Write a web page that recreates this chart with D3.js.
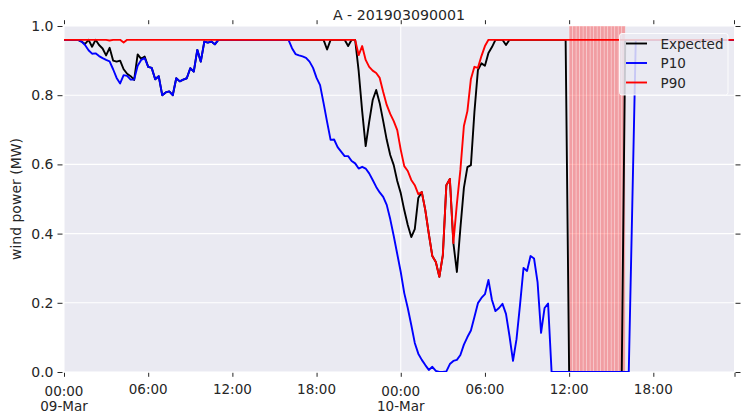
<!DOCTYPE html>
<html>
<head>
<meta charset="utf-8">
<script src="https://cdn.jsdelivr.net/npm/d3@7"></script>
<style>
  body { margin: 0; background: #ffffff; }
  svg { display: block; }
  text { font-family: "DejaVu Sans", sans-serif; fill: #262626; }
</style>
</head>
<body>
<svg id="chart" width="744" height="414"></svg>
<script>
// Forecast for site A, 15-minute steps starting 09-Mar-2019 00:00
const startTime = new Date(2019, 2, 9, 0, 0);
const stepMinutes = 15;

const expected = [
  0.96, 0.96, 0.96, 0.96, 0.96, 0.955, 0.948, 0.96, 0.94, 0.96,
  0.945, 0.935, 0.915, 0.937, 0.90, 0.897, 0.90, 0.875, 0.862, 0.855,
  0.844, 0.918, 0.905, 0.912, 0.882, 0.879, 0.846, 0.855, 0.800, 0.808,
  0.811, 0.800, 0.849, 0.840, 0.845, 0.849, 0.878, 0.868, 0.931, 0.897,
  0.955, 0.952, 0.955, 0.947, 0.96, 0.96, 0.96, 0.96, 0.96, 0.96,
  0.96, 0.96, 0.96, 0.96, 0.96, 0.96, 0.96, 0.96, 0.96, 0.96,
  0.96, 0.96, 0.96, 0.96, 0.96, 0.96, 0.96, 0.96, 0.96, 0.96,
  0.96, 0.96, 0.96, 0.96, 0.96, 0.932, 0.96, 0.96, 0.96, 0.96,
  0.96, 0.942, 0.96, 0.96, 0.870, 0.754, 0.653, 0.723, 0.786, 0.815,
  0.777, 0.725, 0.671, 0.627, 0.598, 0.552, 0.517, 0.468, 0.425, 0.390,
  0.413, 0.503, 0.520, 0.468, 0.399, 0.335, 0.318, 0.275, 0.338, 0.540,
  0.558, 0.373, 0.289, 0.416, 0.532, 0.592, 0.598, 0.751, 0.873, 0.892,
  0.885, 0.922, 0.939, 0.96, 0.96, 0.96, 0.945, 0.96, 0.96, 0.96,
  0.96, 0.96, 0.96, 0.96, 0.96, 0.96, 0.96, 0.96, 0.96, 0.96,
  0.96, 0.96, 0.96, 0.96, 0, 0, 0, 0, 0, 0,
  0, 0, 0, 0, 0, 0, 0, 0, 0, 0,
  0.96, 0.96, 0.96, 0.96, 0.96, 0.96, 0.96, 0.96, 0.96, 0.96,
  0.96, 0.96, 0.96, 0.96, 0.96, 0.96, 0.96, 0.96, 0.96, 0.96,
  0.96, 0.96, 0.96, 0.96, 0.96, 0.96, 0.96, 0.96, 0.96, 0.96,
  0.96, 0.96
];

const p10 = [
  0.96, 0.96, 0.96, 0.96, 0.96, 0.955, 0.945, 0.93, 0.92, 0.921,
  0.913, 0.907, 0.902, 0.898, 0.875, 0.85, 0.834, 0.858, 0.856, 0.845,
  0.845, 0.885, 0.902, 0.907, 0.882, 0.879, 0.846, 0.855, 0.800, 0.808,
  0.811, 0.800, 0.849, 0.840, 0.845, 0.849, 0.878, 0.868, 0.931, 0.897,
  0.955, 0.952, 0.955, 0.947, 0.96, 0.96, 0.96, 0.96, 0.96, 0.96,
  0.96, 0.96, 0.96, 0.96, 0.96, 0.96, 0.96, 0.96, 0.96, 0.96,
  0.96, 0.96, 0.96, 0.96, 0.96, 0.936, 0.919, 0.915, 0.912, 0.908,
  0.897, 0.879, 0.850, 0.829, 0.777, 0.723, 0.671, 0.672, 0.650, 0.637,
  0.624, 0.624, 0.610, 0.603, 0.588, 0.593, 0.588, 0.574, 0.555, 0.535,
  0.519, 0.506, 0.483, 0.442, 0.393, 0.341, 0.289, 0.228, 0.185, 0.136,
  0.084, 0.053, 0.035, 0.020, 0.006, 0.015, 0.003, 0.0, 0.0, 0.002,
  0.023, 0.032, 0.035, 0.049, 0.079, 0.101, 0.120, 0.159, 0.199, 0.214,
  0.225, 0.266, 0.208, 0.176, 0.185, 0.197, 0.168, 0.104, 0.032, 0.095,
  0.194, 0.301, 0.292, 0.335, 0.328, 0.260, 0.113, 0.185, 0.198, 0,
  0, 0, 0, 0, 0, 0, 0, 0, 0, 0,
  0, 0, 0, 0, 0, 0, 0, 0, 0, 0,
  0, 0, 0.48, 0.96, 0.96, 0.96, 0.96, 0.96, 0.96, 0.96,
  0.96, 0.96, 0.96, 0.96, 0.96, 0.96, 0.96, 0.96, 0.96, 0.96,
  0.96, 0.96, 0.96, 0.96, 0.96, 0.96, 0.96, 0.96, 0.96, 0.96,
  0.96, 0.96
];

const p90 = [
  0.96, 0.96, 0.96, 0.96, 0.96, 0.96, 0.96, 0.96, 0.96, 0.96,
  0.96, 0.96, 0.96, 0.958, 0.96, 0.96, 0.96, 0.952, 0.96, 0.96,
  0.96, 0.96, 0.96, 0.96, 0.96, 0.96, 0.96, 0.96, 0.96, 0.96,
  0.96, 0.96, 0.96, 0.96, 0.96, 0.96, 0.96, 0.96, 0.96, 0.96,
  0.96, 0.96, 0.96, 0.96, 0.96, 0.96, 0.96, 0.96, 0.96, 0.96,
  0.96, 0.96, 0.96, 0.96, 0.96, 0.96, 0.96, 0.96, 0.96, 0.96,
  0.96, 0.96, 0.96, 0.96, 0.96, 0.96, 0.96, 0.96, 0.96, 0.96,
  0.96, 0.96, 0.96, 0.96, 0.96, 0.96, 0.96, 0.96, 0.96, 0.96,
  0.96, 0.96, 0.96, 0.96, 0.916, 0.942, 0.902, 0.882, 0.871, 0.864,
  0.850, 0.809, 0.772, 0.746, 0.725, 0.699, 0.642, 0.595, 0.581, 0.555,
  0.540, 0.514, 0.520, 0.468, 0.399, 0.335, 0.318, 0.275, 0.338, 0.540,
  0.558, 0.373, 0.486, 0.584, 0.711, 0.754, 0.847, 0.882, 0.879, 0.913,
  0.942, 0.96, 0.96, 0.96, 0.96, 0.96, 0.96, 0.96, 0.96, 0.96,
  0.96, 0.96, 0.96, 0.96, 0.96, 0.96, 0.96, 0.96, 0.96, 0.96,
  0.96, 0.96, 0.96, 0.96, 0.96, 0.96, 0.96, 0.96, 0.96, 0.96,
  0.96, 0.96, 0.96, 0.96, 0.96, 0.96, 0.96, 0.96, 0.96, 0.96,
  0.96, 0.96, 0.96, 0.96, 0.96, 0.96, 0.96, 0.96, 0.96, 0.96,
  0.96, 0.96, 0.96, 0.96, 0.96, 0.96, 0.96, 0.96, 0.96, 0.96,
  0.96, 0.96, 0.96, 0.96, 0.96, 0.96, 0.96, 0.96, 0.96, 0.96,
  0.96, 0.96
];

const seriesNames = ["Expected", "P10", "P90"];
const seriesColors = ["#000000", "#0000ff", "#ff0000"];

// Curtailment window (shaded in 15-minute blocks)
const shadeStart = new Date(2019, 2, 10, 12, 0);
const shadeEnd = new Date(2019, 2, 10, 16, 0);

const yTicks = [0.0, 0.2, 0.4, 0.6, 0.8, 1.0];
const xTicks = [0, 6, 12, 18, 24, 30, 36, 42].map(h => new Date(2019, 2, 9, h, 0));
const chartTitle = "A - 201903090001";
const yLabel = "wind power (MW)";

// ---------------------------------------------------------------
const svg = d3.select("#chart");
const plot = { left: 64, right: 734, top: 26, bottom: 372 };

const times = expected.map((_, i) => new Date(startTime.getTime() + i * stepMinutes * 60000));
const x = d3.scaleTime().domain([times[0], times[times.length - 1]]).range([plot.left, plot.right]);
const y = d3.scaleLinear().domain([0, 1]).range([plot.bottom, plot.top]);

svg.append("defs").append("clipPath").attr("id", "plotclip")
  .append("rect")
  .attr("x", plot.left).attr("y", plot.top)
  .attr("width", plot.right - plot.left).attr("height", plot.bottom - plot.top);

// background
svg.append("rect")
  .attr("x", plot.left).attr("y", plot.top)
  .attr("width", plot.right - plot.left).attr("height", plot.bottom - plot.top)
  .attr("fill", "#eaeaf2");

// grid: horizontal at every y tick, vertical at day boundaries
const grid = svg.append("g").attr("stroke", "#ffffff").attr("stroke-width", 1.1);
grid.selectAll("line.h").data(yTicks).join("line")
  .attr("x1", plot.left).attr("x2", plot.right)
  .attr("y1", d => y(d)).attr("y2", d => y(d));
grid.selectAll("line.v").data(xTicks.filter(d => d.getHours() === 0)).join("line")
  .attr("y1", plot.top).attr("y2", plot.bottom)
  .attr("x1", d => x(d)).attr("x2", d => x(d));

// shaded curtailment blocks
const shadeBlocks = times.filter(t => t >= shadeStart && t < shadeEnd);
svg.append("g").attr("clip-path", "url(#plotclip)")
  .selectAll("rect").data(shadeBlocks).join("rect")
  .attr("x", d => x(d))
  .attr("width", d => x(new Date(d.getTime() + stepMinutes * 60000)) - x(d))
  .attr("y", plot.top).attr("height", plot.bottom - plot.top)
  .attr("fill", "#ff0000").attr("fill-opacity", 0.33)
  .attr("stroke", "#ffffff").attr("stroke-opacity", 0.4).attr("stroke-width", 0.7);

// series lines
const series = [expected, p10, p90];
const line = d3.line().x((d, i) => x(times[i])).y(d => y(d));
const lines = svg.append("g").attr("clip-path", "url(#plotclip)");
series.forEach((vals, k) => {
  lines.append("path")
    .datum(vals)
    .attr("d", line)
    .attr("fill", "none")
    .attr("stroke", seriesColors[k])
    .attr("stroke-width", 1.9)
    .attr("stroke-linejoin", "round");
});

// axes
const fmtTime = d3.timeFormat("%H:%M");
const fmtDay = d3.timeFormat("%d-%b");

const xAxisB = svg.append("g").attr("transform", `translate(0,${plot.bottom + 0.8})`)
  .call(d3.axisBottom(x).tickValues(xTicks).tickSize(4).tickFormat(""));
const xAxisT = svg.append("g").attr("transform", `translate(0,${plot.top - 1.8})`)
  .call(d3.axisTop(x).tickValues(xTicks.concat([times[times.length - 1]])).tickSize(4).tickFormat(""));
const yAxisL = svg.append("g").attr("transform", `translate(${plot.left - 1.5},0)`)
  .call(d3.axisLeft(y).tickValues(yTicks).tickSize(5).tickPadding(4).tickFormat(d3.format(".1f")));
const yAxisR = svg.append("g").attr("transform", `translate(${plot.right + 1.5},0)`)
  .call(d3.axisRight(y).tickValues(yTicks).tickSize(5).tickFormat(""));
// extra corner tick at the right end of the bottom axis
svg.append("line")
  .attr("x1", plot.right + 1).attr("x2", plot.right + 1)
  .attr("y1", plot.bottom + 0.8).attr("y2", plot.bottom + 4.8)
  .attr("stroke", "#262626");

[xAxisB, xAxisT, yAxisL, yAxisR].forEach(g => {
  g.select(".domain").remove();
  g.selectAll(".tick line").attr("stroke", "#262626").attr("stroke-width", 1);
  g.selectAll(".tick text").attr("font-size", 14).attr("fill", "#262626")
    .style("font-family", "'DejaVu Sans', sans-serif");
});

// two-line labels on the bottom axis: time, plus date at midnight
xTicks.forEach(d => {
  const g = svg.append("text")
    .attr("x", x(d)).attr("text-anchor", "middle").attr("font-size", 13.5);
  if (d.getHours() === 0) {
    g.append("tspan").attr("x", x(d)).attr("y", 395.5).text(fmtTime(d));
    g.append("tspan").attr("x", x(d)).attr("y", 411).text(fmtDay(d));
  } else {
    g.attr("y", 393.5).text(fmtTime(d));
  }
});

// title and axis label
svg.append("text")
  .attr("x", (plot.left + plot.right) / 2).attr("y", 19.5)
  .attr("text-anchor", "middle").attr("font-size", 14.2)
  .text(chartTitle);
svg.append("text")
  .attr("transform", "translate(20.5,199) rotate(-90)")
  .attr("text-anchor", "middle").attr("font-size", 14)
  .text(yLabel);

// legend
const legend = svg.append("g");
legend.append("rect")
  .attr("x", 619.5).attr("y", 33.5).attr("width", 108.5).attr("height", 61.5)
  .attr("rx", 2.5)
  .attr("fill", "#eaeaf2").attr("fill-opacity", 0.85)
  .attr("stroke", "#ffffff").attr("stroke-opacity", 0.85).attr("stroke-width", 1);
seriesNames.forEach((name, k) => {
  const ly = 43.5 + k * 19.5;
  legend.append("line")
    .attr("x1", 626).attr("x2", 647).attr("y1", ly).attr("y2", ly)
    .attr("stroke", seriesColors[k]).attr("stroke-width", 1.9);
  legend.append("text")
    .attr("x", 660.5).attr("y", ly + 5).attr("font-size", 13.5)
    .text(name);
});
</script>
</body>
</html>
